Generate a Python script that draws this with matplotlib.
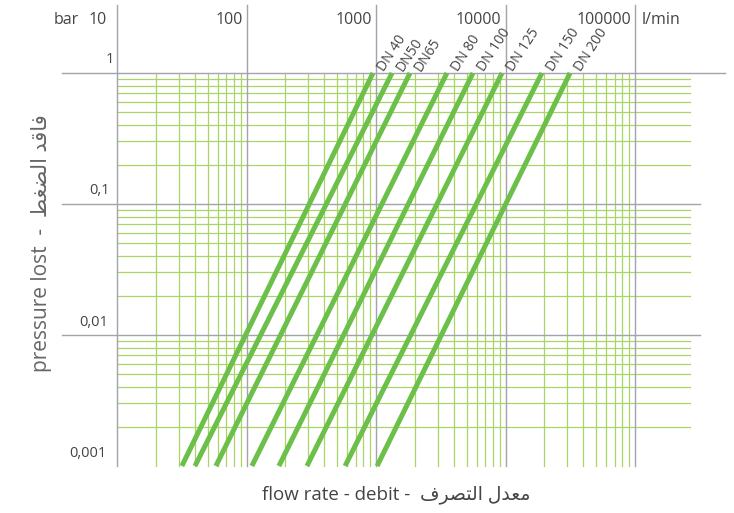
import matplotlib
matplotlib.use('Agg')
import matplotlib.pyplot as plt
import matplotlib.transforms as mtransforms

plt.rcParams['font.family'] = ['Open Sans', 'DejaVu Sans']

# pipe sizes and flow (l/min) where each curve hits 0.001 bar and 1 bar
pipes = ['DN 40', 'DN50', 'DN65', 'DN 80', 'DN 100', 'DN 125', 'DN 150', 'DN 200']
flow_low = [31.7, 40, 58, 110, 178, 293, 577, 1020]
flow_high = [948, 1330, 1830, 3530, 5610, 9400, 19100, 31500]
p_low, p_high = 0.001, 1.0

flow_decades = [10, 100, 1000, 10000, 100000]
flow_labels = ['10', '100', '1000', '10000', '100000']
p_decades = [1, 0.1, 0.01, 0.001]
p_labels = ['1', '0,1', '0,01', '0,001']

# arabic, pre-shaped in visual order
ar_pressure = '\uFEC2\uFED0\uFEC0\uFEDF\uFE8D \uFEAA\uFED7\uFE8E\uFED3'
ar_flow = '\uFED1\uFEAE\uFEBC\uFE98\uFEDF\uFE8D \uFEDD\uFEAA\uFECC\uFEE3'

GREEN = '#6cc04a'
GRID_GREEN = '#a9d466'
GRAY = '#a3a3ad'
TEXT = '#444444'

W, H = 734, 513
x0_px, x_dec = 117, 129.5   # pixel of 10 l/min, pixels per decade
y0_px, y_dec = 73, 131      # pixel of 1 bar (from top), pixels per decade


def px_to_q(px):
    return 10 ** (1 + (px - x0_px) / x_dec)


def px_to_p(py):
    return 10 ** (-(py - y0_px) / y_dec)


fig = plt.figure(figsize=(W / 100, H / 100), dpi=100)
ax = fig.add_axes([0, 0, 1, 1])
ax.set_xscale('log')
ax.set_yscale('log')
ax.set_xlim(px_to_q(0), px_to_q(W))
ax.set_ylim(px_to_p(H), px_to_p(0))
ax.axis('off')

# green minor grid
for d in flow_decades[:-1]:
    for k in range(2, 10):
        ax.plot([d * k, d * k], [p_low, p_high], color=GRID_GREEN, lw=0.9, zorder=1)
for d in p_decades[1:]:
    for k in range(2, 10):
        ax.plot([10, px_to_q(690)], [d * k, d * k], color=GRID_GREEN, lw=0.9, zorder=1)

# gray decade lines
for d in flow_decades:
    ax.plot([d, d], [p_low, px_to_p(5)], color=GRAY, lw=1.0, zorder=2)
for d in p_decades[:-1]:
    right = px_to_q(725) if d == 1 else px_to_q(700)
    ax.plot([px_to_q(62), right], [d, d], color=GRAY, lw=1.0, zorder=2)

# pressure loss curves
for name, ql, qh in zip(pipes, flow_low, flow_high):
    ax.plot([ql, qh], [p_low, p_high], color=GREEN, lw=3.6, solid_capstyle='butt', zorder=3)
    ax.annotate(name, (qh, p_high), xytext=(8, 3), textcoords='offset pixels',
                rotation=57, rotation_mode='anchor', ha='left', va='center',
                fontsize=10, color=TEXT)

# top flow labels
trans = mtransforms.blended_transform_factory(ax.transData, ax.transAxes)
top = 1 - 20 / H
for d, lab in zip(flow_decades, flow_labels):
    dx = -10 if d == 10 else -4
    ax.annotate(lab, (d, top), xycoords=trans, xytext=(dx, 0), textcoords='offset pixels',
                ha='right', va='center', fontsize=11.5, color=TEXT)
ax.annotate('bar', (flow_decades[0], top), xycoords=trans, xytext=(-38, 0),
            textcoords='offset pixels', ha='right', va='center', fontsize=11.5, color=TEXT)
ax.annotate('l/min', (flow_decades[-1], top), xycoords=trans, xytext=(7, 0),
            textcoords='offset pixels', ha='left', va='center', fontsize=11.5, color=TEXT)

# pressure labels
p_offsets = [-3, -7, -9, -11]
for d, lab, dx in zip(p_decades, p_labels, p_offsets):
    ax.annotate(lab, (10, d), xytext=(dx, 13), textcoords='offset pixels',
                ha='right', va='center', fontsize=10.5, color=TEXT)

fig.text(42 / W, 1 - 243 / H, 'pressure lost  -  ' + ar_pressure, rotation=90,
         ha='center', va='center', fontsize=15, color='#666666')
fig.text(396 / W, 1 - 495 / H, 'flow rate - debit -  ' + ar_flow,
         ha='center', va='center', fontsize=13.5, color='#444444')

fig.savefig('out.png', dpi=100)
